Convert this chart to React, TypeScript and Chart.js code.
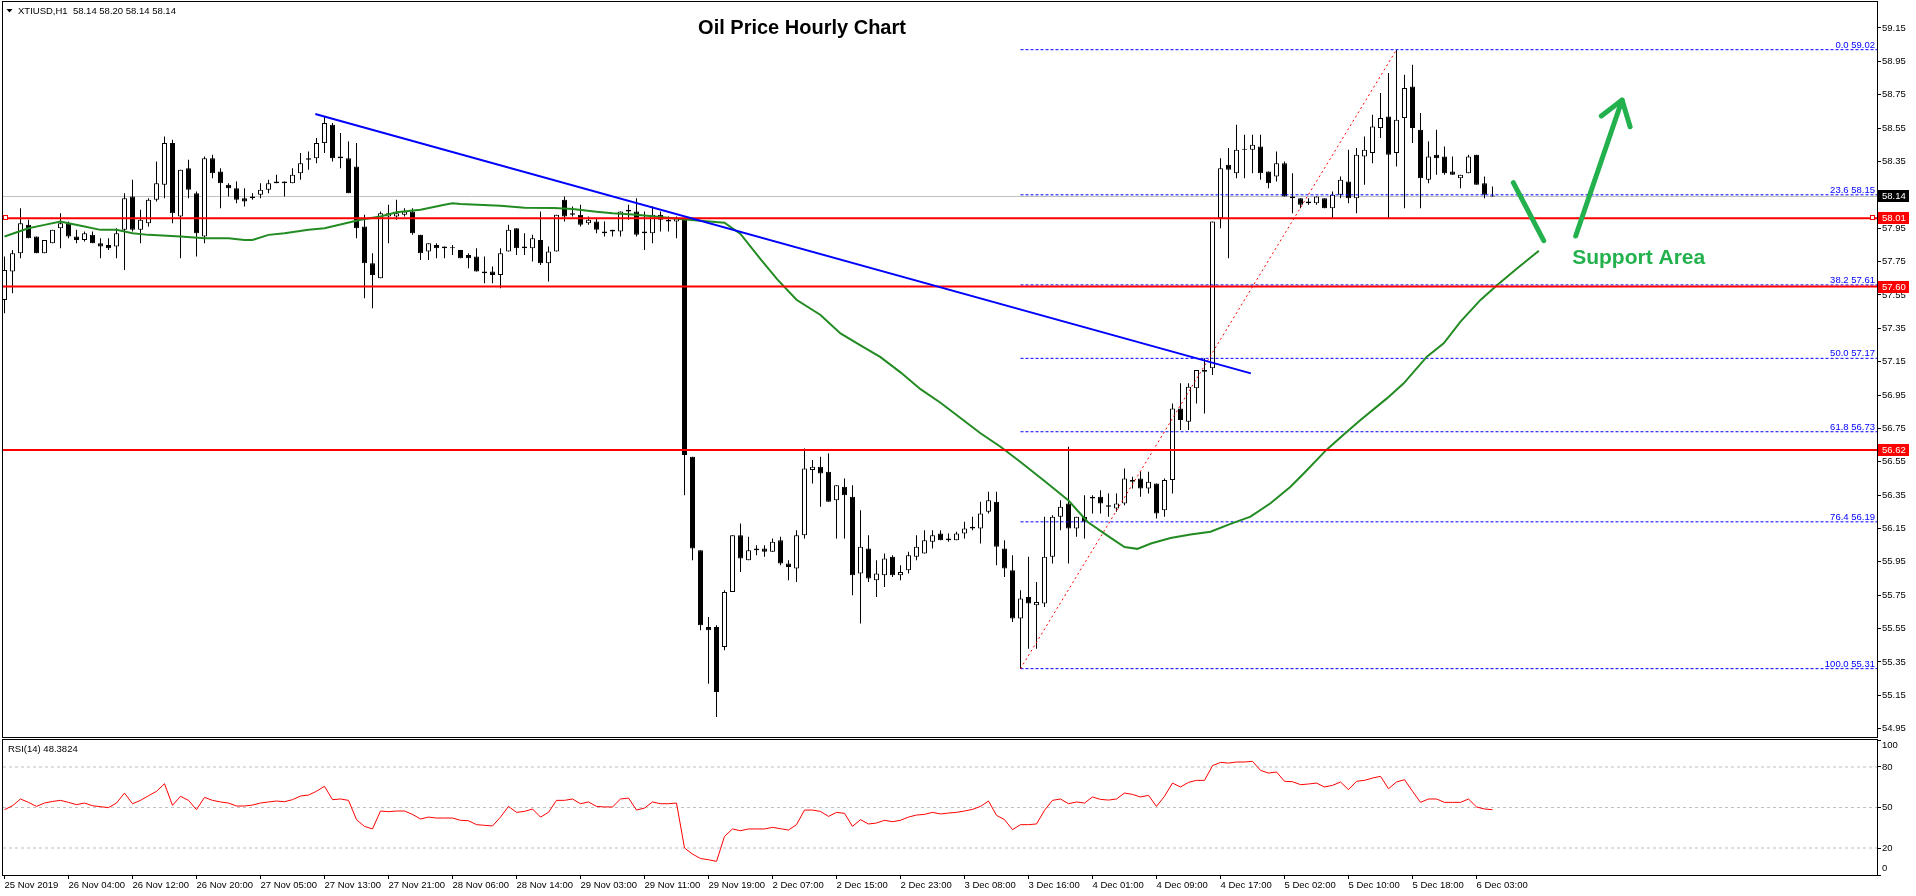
import { useEffect, useRef } from "react";
import { Chart, registerables } from "chart.js";

Chart.register(...registerables);

// ---------------- data ----------------
const TIME_LABELS = [
  "25 Nov 2019", "26 Nov 04:00", "26 Nov 12:00", "26 Nov 20:00", "27 Nov 05:00", "27 Nov 13:00",
  "27 Nov 21:00", "28 Nov 06:00", "28 Nov 14:00", "29 Nov 03:00", "29 Nov 11:00", "29 Nov 19:00",
  "2 Dec 07:00", "2 Dec 15:00", "2 Dec 23:00", "3 Dec 08:00", "3 Dec 16:00", "4 Dec 01:00",
  "4 Dec 09:00", "4 Dec 17:00", "5 Dec 02:00", "5 Dec 10:00", "5 Dec 18:00", "6 Dec 03:00",
];
const TIME_LABEL_BARS = [0, 8, 16, 24, 32, 40, 48, 56, 64, 72, 80, 88, 96, 104, 112, 120, 128, 136, 144, 152, 160, 168, 176, 184];

const OPEN = [
  57.52, 57.69, 57.80, 57.97, 57.90, 57.80, 57.86, 57.95, 57.98, 57.90,
  57.88, 57.91, 57.86, 57.85, 57.84, 57.94, 58.14, 57.94, 57.98, 58.12,
  58.21, 58.46, 58.02, 58.31, 58.16, 57.90, 58.37, 58.29, 58.21, 58.19,
  58.13, 58.13, 58.15, 58.18, 58.22, 58.23, 58.22, 58.28, 58.36, 58.37,
  58.46, 58.57, 58.37, 58.37, 58.32, 57.96, 57.74, 57.65, 58.02, 58.02,
  58.03, 58.05, 57.91, 57.81, 57.85, 57.84, 57.83, 57.82, 57.79, 57.78,
  57.69, 57.69, 57.67, 57.81, 57.95, 57.84, 57.83, 57.88, 57.74, 57.81,
  58.12, 58.03, 58.03, 57.98, 57.99, 57.93, 57.94, 57.93, 58.06, 58.05,
  57.93, 57.92, 58.03, 58.00, 57.99, 58.00, 56.58, 56.02, 55.56, 55.56,
  55.44, 55.77, 56.11, 55.96, 56.02, 56.03, 56.01, 56.08, 55.94, 55.91,
  56.11, 56.50, 56.52, 56.49, 56.32, 56.40, 56.34, 55.88, 56.03, 55.84,
  55.87, 55.98, 55.87, 55.90, 55.98, 56.00, 56.07, 56.12, 56.08, 56.08,
  56.12, 56.16, 56.15, 56.25, 56.31, 56.03, 55.90, 55.61, 55.74, 55.69,
  55.70, 55.98, 56.22, 56.30, 56.15, 56.22, 56.33, 56.34, 56.29, 56.27,
  56.30, 56.43, 56.45, 56.39, 56.42, 56.26, 56.44, 56.87, 56.79, 56.99,
  57.09, 57.11, 58.01, 58.33, 58.28, 58.42, 58.42, 58.44, 58.29, 58.26,
  58.34, 58.14, 58.13, 58.11, 58.10, 58.13, 58.07, 58.15, 58.23, 58.13,
  58.38, 58.40, 58.55, 58.62, 58.40, 58.61, 58.80, 58.54, 58.24, 58.39,
  58.38, 58.29, 58.25, 58.28, 58.39, 58.22, 58.14,
];
const HIGH = [
  57.78, 57.82, 58.07, 58.00, 57.90, 57.88, 57.94, 58.04, 57.99, 57.94,
  57.93, 57.93, 57.89, 57.89, 57.95, 58.16, 58.24, 58.06, 58.13, 58.35,
  58.50, 58.48, 58.30, 58.36, 58.17, 58.38, 58.39, 58.31, 58.22, 58.23,
  58.19, 58.16, 58.22, 58.24, 58.27, 58.23, 58.31, 58.40, 58.41, 58.49,
  58.62, 58.58, 58.52, 58.47, 58.46, 58.03, 57.80, 58.05, 58.09, 58.12,
  58.07, 58.07, 57.91, 57.86, 57.86, 57.84, 57.85, 57.82, 57.80, 57.83,
  57.78, 57.72, 57.83, 57.97, 57.95, 57.92, 57.91, 58.05, 57.84, 58.03,
  58.14, 58.08, 58.09, 58.02, 58.01, 57.99, 57.94, 58.05, 58.09, 58.13,
  58.05, 58.08, 58.05, 58.02, 58.02, 58.01, 56.58, 56.02, 55.62, 55.57,
  55.78, 56.11, 56.18, 56.10, 56.05, 56.05, 56.09, 56.10, 55.96, 56.14,
  56.63, 56.56, 56.58, 56.60, 56.41, 56.45, 56.41, 56.26, 56.11, 55.96,
  56.00, 55.99, 55.93, 56.01, 56.11, 56.14, 56.14, 56.14, 56.12, 56.13,
  56.19, 56.22, 56.31, 56.37, 56.37, 56.08, 55.99, 55.78, 55.98, 55.83,
  56.22, 56.23, 56.32, 56.64, 56.22, 56.35, 56.35, 56.38, 56.36, 56.36,
  56.51, 56.46, 56.49, 56.49, 56.42, 56.45, 56.90, 57.02, 57.02, 57.10,
  57.17, 57.99, 58.37, 58.43, 58.57, 58.51, 58.51, 58.51, 58.29, 58.41,
  58.35, 58.28, 58.13, 58.13, 58.14, 58.13, 58.17, 58.26, 58.42, 58.43,
  58.50, 58.63, 58.76, 58.88, 59.02, 58.87, 58.93, 58.64, 58.47, 58.54,
  58.44, 58.38, 58.27, 58.39, 58.39, 58.26, 58.20,
];
const LOW = [
  57.44, 57.56, 57.77, 57.89, 57.80, 57.80, 57.86, 57.83, 57.89, 57.86,
  57.87, 57.86, 57.77, 57.82, 57.77, 57.70, 57.93, 57.86, 57.96, 58.11,
  58.13, 57.98, 57.77, 58.13, 57.78, 57.86, 58.25, 58.07, 58.14, 58.10,
  58.08, 58.12, 58.13, 58.16, 58.22, 58.14, 58.22, 58.24, 58.30, 58.34,
  58.40, 58.35, 58.31, 58.16, 57.89, 57.53, 57.47, 57.65, 57.86, 58.00,
  58.02, 57.91, 57.76, 57.76, 57.77, 57.77, 57.79, 57.77, 57.71, 57.69,
  57.62, 57.62, 57.59, 57.81, 57.79, 57.79, 57.75, 57.73, 57.63, 57.81,
  57.99, 58.02, 57.96, 57.97, 57.92, 57.90, 57.90, 57.90, 58.00, 57.90,
  57.82, 57.86, 57.93, 57.93, 57.89, 56.35, 55.96, 55.54, 55.22, 55.02,
  55.42, 55.77, 55.89, 55.96, 55.99, 55.98, 56.01, 55.93, 55.84, 55.83,
  56.09, 56.42, 56.28, 56.31, 56.09, 56.09, 55.75, 55.58, 55.83, 55.74,
  55.80, 55.86, 55.84, 55.88, 55.96, 56.00, 56.03, 56.08, 56.07, 56.08,
  56.09, 56.14, 56.06, 56.24, 55.93, 55.86, 55.59, 55.31, 55.43, 55.43,
  55.68, 55.94, 56.14, 55.94, 56.10, 56.09, 56.24, 56.24, 56.22, 56.25,
  56.29, 56.39, 56.34, 56.36, 56.21, 56.22, 56.36, 56.74, 56.74, 56.90,
  56.84, 57.07, 57.95, 57.77, 58.25, 58.25, 58.28, 58.24, 58.19, 58.23,
  58.14, 58.04, 58.07, 58.09, 58.09, 58.07, 58.01, 58.13, 58.10, 58.04,
  58.21, 58.34, 58.49, 58.01, 58.32, 58.07, 58.46, 58.07, 58.22, 58.27,
  58.27, 58.27, 58.19, 58.28, 58.21, 58.13, 58.14,
];
const CLOSE = [
  57.70, 57.80, 57.98, 57.89, 57.80, 57.88, 57.94, 57.98, 57.90, 57.88,
  57.92, 57.86, 57.84, 57.83, 57.92, 58.13, 57.94, 58.00, 58.12, 58.22,
  58.46, 58.04, 58.30, 58.18, 57.92, 58.37, 58.28, 58.22, 58.19, 58.12,
  58.11, 58.14, 58.18, 58.22, 58.23, 58.22, 58.27, 58.34, 58.37, 58.46,
  58.58, 58.37, 58.38, 58.16, 57.95, 57.74, 57.67, 58.04, 58.04, 58.04,
  58.05, 57.92, 57.80, 57.86, 57.83, 57.83, 57.83, 57.77, 57.77, 57.69,
  57.68, 57.67, 57.80, 57.94, 57.83, 57.83, 57.89, 57.74, 57.81, 58.03,
  58.02, 58.04, 57.97, 58.00, 57.94, 57.92, 57.93, 58.05, 58.05, 57.91,
  57.92, 58.03, 58.00, 57.99, 58.01, 56.59, 56.03, 55.57, 55.54, 55.17,
  55.77, 56.11, 55.97, 56.02, 56.03, 56.01, 56.07, 55.94, 55.92, 56.11,
  56.51, 56.52, 56.48, 56.31, 56.41, 56.35, 55.87, 56.04, 55.85, 55.88,
  55.97, 55.87, 55.89, 55.99, 56.04, 56.08, 56.11, 56.08, 56.09, 56.12,
  56.15, 56.15, 56.24, 56.32, 56.04, 55.91, 55.61, 55.73, 55.70, 55.71,
  55.98, 56.22, 56.28, 56.15, 56.22, 56.19, 56.34, 56.30, 56.28, 56.30,
  56.45, 56.44, 56.39, 56.43, 56.24, 56.44, 56.87, 56.80, 57.00, 57.10,
  57.10, 57.99, 58.31, 58.30, 58.42, 58.42, 58.45, 58.28, 58.22, 58.34,
  58.14, 58.13, 58.09, 58.10, 58.14, 58.07, 58.15, 58.24, 58.13, 58.39,
  58.42, 58.56, 58.61, 58.39, 58.60, 58.79, 58.55, 58.25, 58.38, 58.37,
  58.28, 58.27, 58.27, 58.38, 58.21, 58.15, 58.14,
];

const RSI = [
  48.4, 51.3, 56.3, 53.8, 50.8, 53.3, 54.5, 55.3, 53.8, 52.1,
  53.3, 51.3, 50.6, 49.9, 53.3, 60.7, 52.8, 55.3, 58.7, 62.0,
  67.6, 51.6, 58.3, 55.3, 48.4, 57.5, 55.3, 54.1, 53.3, 51.1,
  51.1, 51.8, 53.3, 54.1, 54.8, 54.3, 55.8, 58.5, 59.2, 62.0,
  65.7, 55.8, 56.3, 55.3, 41.0, 36.0, 34.1, 47.4, 46.9, 47.4,
  47.4, 44.9, 41.5, 42.9, 42.2, 42.2, 42.2, 40.5, 40.2, 37.3,
  36.8, 36.3, 42.9, 50.8, 46.4, 47.1, 48.9, 42.9, 46.4, 55.3,
  55.3, 56.3, 52.8, 54.1, 50.8, 50.4, 50.4, 56.3, 57.0, 48.1,
  49.6, 54.1, 52.8, 52.8, 53.3, 20.0, 15.5, 12.2, 11.3, 10.1,
  28.6, 34.1, 32.8, 34.1, 34.1, 34.1, 35.3, 34.3, 33.3, 37.3,
  48.1, 48.1, 47.1, 43.4, 46.4, 45.7, 36.0, 41.0, 37.8, 38.5,
  40.5, 39.5, 40.5, 42.9, 44.4, 44.9, 46.4, 45.2, 45.9, 46.4,
  47.4, 48.6, 50.8, 54.8, 44.2, 41.0, 33.6, 37.3, 37.3, 37.8,
  47.9, 55.3, 56.3, 52.8, 54.1, 53.3, 57.8, 56.0, 55.5, 56.3,
  60.7, 59.7, 57.8, 59.0, 50.8, 58.3, 68.1, 65.2, 68.6, 70.1,
  70.1, 81.0, 83.4, 82.9, 83.7, 83.7, 84.2, 77.5, 75.5, 76.3,
  69.4, 69.1, 66.9, 67.4, 68.1, 65.2, 66.4, 68.9, 63.2, 69.4,
  70.1, 71.8, 73.1, 63.9, 68.9, 70.6, 62.0, 53.8, 56.3, 56.3,
  53.8, 53.8, 53.8, 56.3, 50.4, 48.9, 48.38,
];

const MA_BARS = [
  0, 3, 5, 7, 8, 10, 12, 14, 16, 18, 22, 25, 28, 30, 31, 33, 35, 38, 40, 44.5,
  47, 49, 52, 55, 56, 57, 62, 65, 68.7, 71, 74, 76, 79, 81.6, 84.5, 86.2, 90, 92, 94.5, 96.6,
  99, 102, 104.5, 107, 109.5, 112, 114.5, 117, 119.5, 122, 124.5, 127, 130, 133, 135.4, 138, 140, 141.6, 143.3, 145.75,
  148.25, 150.75, 153.25, 155.75, 158.25, 160.75, 162.4, 165.3, 167.8, 169.5, 172.8, 174.9, 177.8, 179.9, 182, 184.5, 186.6, 189.1, 191.8,
];
const MA_VALUES = [
  57.90, 57.95, 57.97, 57.99, 57.98, 57.96, 57.94, 57.94, 57.92, 57.91, 57.90, 57.89, 57.89, 57.88, 57.88, 57.91, 57.92, 57.94, 57.95, 58.00,
  58.02, 58.045, 58.06, 58.09, 58.10, 58.095, 58.085, 58.073, 58.071, 58.065, 58.049, 58.039, 58.031, 58.019, 58.005, 57.997, 57.983, 57.916, 57.765, 57.643,
  57.521, 57.43, 57.319, 57.248, 57.177, 57.086, 56.985, 56.904, 56.812, 56.721, 56.64, 56.549, 56.435, 56.318, 56.189, 56.103, 56.039, 56.028, 56.06, 56.093,
  56.114, 56.131, 56.178, 56.221, 56.301, 56.40, 56.48, 56.624, 56.73, 56.80, 56.93, 57.02, 57.18, 57.26, 57.39, 57.52, 57.61, 57.71, 57.815,
];

const PRICE_TICKS = [
  54.95, 55.15, 55.35, 55.55, 55.75, 55.95, 56.15, 56.35, 56.55, 56.75, 56.95,
  57.15, 57.35, 57.55, 57.75, 57.95, 58.15, 58.35, 58.55, 58.75, 58.95, 59.15,
];
const RSI_TICKS = [0, 20, 50, 80, 100];
const RSI_LEVELS = [20, 50, 80];
const SUPPORT_LEVELS = [58.01, 57.6, 56.62];
const BID_PRICE = 58.14;
const FIB_RATIOS = ["0.0", "23.6", "38.2", "50.0", "61.8", "76.4", "100.0"];
const FIB_PRICES = [59.02, 58.15, 57.61, 57.17, 56.73, 56.19, 55.31];
const FIB_FROM_BAR = 127;
const FIB_TO_BAR = 174;
const TREND_BARS = [38.85, 155.8];
const TREND_PRICES = [58.634, 57.08];
const DOWN_STROKE_BARS = [188.6, 192.4];
const DOWN_STROKE_PRICES = [58.223, 57.875];
const UP_SHAFT_BARS = [196.4, 202.2];
const UP_SHAFT_PRICES = [57.903, 58.718];
const ARROW_HEAD_BARS = [199.6, 202.2, 203.2];
const ARROW_HEAD_PRICES = [58.622, 58.718, 58.558];
const SUPPORT_LABEL_BAR = 195.96;
const SUPPORT_LABEL_PRICE = 57.735;
const SUPPORT_LABEL = "Support Area";
const TITLE = "Oil Price Hourly Chart";
const SYMBOL_HEADER = "XTIUSD,H1  58.14 58.20 58.14 58.14";
const RSI_HEADER = "RSI(14) 48.3824";

// ---------------- layout / style ----------------
const W = 1916;
const MAIN_H = 738;
const RSI_TOP = 738;
const RSI_H = 158;
const AXIS_W = 39;
const X_MIN = -0.1875;
const X_MAX = 234.0625;
const PRICE_MIN = 54.9003;
const PRICE_MAX = 59.3058;
const FAMILY = "'Liberation Sans', Arial, sans-serif";
const SMALL_FONT = `9.5px ${FAMILY}`;
const GREEN_NOTE = "#22b14c";

const mainOverlay = {
  id: "mainOverlay",
  afterDatasetsDraw(chart: any) {
    const { ctx, chartArea: ca, scales } = chart;
    const x = scales.x;
    const y = scales.y;
    ctx.save();
    ctx.strokeStyle = "#000";
    ctx.lineWidth = 1;
    ctx.strokeRect(ca.left - 0.5, ca.top - 0.5, ca.right - ca.left + 1, ca.bottom - ca.top + 1);

    ctx.font = SMALL_FONT;
    ctx.fillStyle = "#0000ff";
    ctx.textAlign = "right";
    ctx.textBaseline = "alphabetic";
    FIB_PRICES.forEach((p, i) => {
      const py = y.getPixelForValue(p);
      ctx.fillText(`${FIB_RATIOS[i]} ${p.toFixed(2)}`, ca.right - 2, py - 2);
    });

    const ry = Math.round(y.getPixelForValue(SUPPORT_LEVELS[0]));
    ctx.fillStyle = "#fff";
    ctx.strokeStyle = "#ff0000";
    [ca.left + 0.5, ca.right - 6.5].forEach((sx) => {
      ctx.fillRect(sx, ry - 2.5, 4, 4);
      ctx.strokeRect(sx, ry - 2.5, 4, 4);
    });

    ctx.fillStyle = "#000";
    ctx.beginPath();
    ctx.moveTo(6.5, 9);
    ctx.lineTo(12.5, 9);
    ctx.lineTo(9.5, 12.5);
    ctx.closePath();
    ctx.fill();
    ctx.textAlign = "left";
    ctx.font = SMALL_FONT;
    ctx.fillText(SYMBOL_HEADER, 18, 14);

    ctx.font = `bold 20px ${FAMILY}`;
    ctx.textAlign = "center";
    ctx.fillText(TITLE, 802, 34);

    ctx.strokeStyle = GREEN_NOTE;
    ctx.lineWidth = 5;
    ctx.lineCap = "round";
    ctx.lineJoin = "round";
    ctx.beginPath();
    ctx.moveTo(x.getPixelForValue(DOWN_STROKE_BARS[0]), y.getPixelForValue(DOWN_STROKE_PRICES[0]));
    ctx.lineTo(x.getPixelForValue(DOWN_STROKE_BARS[1]), y.getPixelForValue(DOWN_STROKE_PRICES[1]));
    ctx.stroke();
    ctx.beginPath();
    ctx.moveTo(x.getPixelForValue(UP_SHAFT_BARS[0]), y.getPixelForValue(UP_SHAFT_PRICES[0]));
    ctx.lineTo(x.getPixelForValue(UP_SHAFT_BARS[1]), y.getPixelForValue(UP_SHAFT_PRICES[1]));
    ctx.stroke();
    ctx.beginPath();
    ARROW_HEAD_BARS.forEach((b, i) => {
      const px = x.getPixelForValue(b);
      const py = y.getPixelForValue(ARROW_HEAD_PRICES[i]);
      if (i === 0) ctx.moveTo(px, py);
      else ctx.lineTo(px, py);
    });
    ctx.stroke();

    ctx.fillStyle = GREEN_NOTE;
    ctx.font = `bold 21px ${FAMILY}`;
    ctx.textAlign = "left";
    ctx.fillText(SUPPORT_LABEL, x.getPixelForValue(SUPPORT_LABEL_BAR), y.getPixelForValue(SUPPORT_LABEL_PRICE));
    ctx.restore();
  },
  afterDraw(chart: any) {
    const { ctx, chartArea: ca, scales } = chart;
    const y = scales.y;
    ctx.save();
    ctx.font = SMALL_FONT;
    ctx.textAlign = "left";
    ctx.textBaseline = "middle";
    const boxes: [number, string][] = [[BID_PRICE, "#000000"], ...SUPPORT_LEVELS.map((v) => [v, "#ff0000"] as [number, string])];
    boxes.forEach(([v, col]) => {
      const py = Math.round(y.getPixelForValue(v));
      ctx.fillStyle = col;
      ctx.fillRect(ca.right + 1, py - 6, 31, 12);
      ctx.fillStyle = "#fff";
      ctx.fillText(v.toFixed(2), ca.right + 5, py + 0.5);
    });
    ctx.restore();
  },
};

const rsiOverlay = {
  id: "rsiOverlay",
  afterDatasetsDraw(chart: any) {
    const { ctx, chartArea: ca, scales } = chart;
    const y = scales.y;
    ctx.save();
    ctx.strokeStyle = "#000";
    ctx.lineWidth = 1;
    ctx.strokeRect(ca.left - 0.5, ca.top - 0.5, ca.right - ca.left + 1, ca.bottom - ca.top + 1);
    ctx.font = SMALL_FONT;
    ctx.fillStyle = "#000";
    ctx.textAlign = "left";
    ctx.textBaseline = "alphabetic";
    ctx.fillText(RSI_HEADER, 8, ca.top + 12);
    ctx.textBaseline = "middle";
    RSI_TICKS.forEach((v) => {
      const py = Math.min(Math.max(y.getPixelForValue(v), ca.top + 5), ca.bottom - 7);
      ctx.fillText(String(v), ca.right + 5, py);
    });
    ctx.restore();
  },
};

function hLine(value: number, from: number, to: number, color: string, width: number, order: number, dash: number[] = []) {
  return {
    type: "line" as const,
    data: [{ x: from, y: value }, { x: to, y: value }],
    borderColor: color,
    borderWidth: width,
    borderDash: dash,
    pointRadius: 0,
    fill: false,
    order,
  };
}

export default function App() {
  const mainRef = useRef<HTMLCanvasElement>(null);
  const rsiRef = useRef<HTMLCanvasElement>(null);

  useEffect(() => {
    const idx = OPEN.map((_, i) => i);
    const axisFont = { family: FAMILY, size: 9.5 };

    const datasets: any[] = [
      hLine(BID_PRICE, X_MIN, X_MAX, "#c0c0c0", 1, 10),
      {
        type: "bar",
        data: idx.map((i) => ({ x: i, y: [LOW[i], HIGH[i]] })),
        backgroundColor: "#000",
        borderWidth: 0,
        barThickness: 1,
        grouped: false,
        minBarLength: 1,
        inflateAmount: 0,
        order: 9,
      },
      {
        type: "bar",
        data: idx.map((i) => ({ x: i, y: [Math.min(OPEN[i], CLOSE[i]), Math.max(OPEN[i], CLOSE[i])] })),
        backgroundColor: idx.map((i) => (CLOSE[i] >= OPEN[i] ? "#ffffff" : "#000000")),
        borderColor: "#000",
        borderWidth: 1,
        borderSkipped: false,
        barThickness: 5,
        grouped: false,
        minBarLength: 1,
        inflateAmount: 0,
        order: 8,
      },
      ...FIB_PRICES.map((p) => hLine(p, FIB_FROM_BAR, X_MAX, "#0000ff", 1, 7, [3, 2])),
      {
        type: "line",
        data: [
          { x: FIB_FROM_BAR, y: FIB_PRICES[FIB_PRICES.length - 1] },
          { x: FIB_TO_BAR, y: FIB_PRICES[0] },
        ],
        borderColor: "#ff0000",
        borderWidth: 1,
        borderDash: [2, 3],
        pointRadius: 0,
        order: 6,
      },
      {
        type: "line",
        data: MA_BARS.map((b, i) => ({ x: b, y: MA_VALUES[i] })),
        borderColor: "#228b22",
        borderWidth: 2,
        pointRadius: 0,
        order: 5,
      },
      ...SUPPORT_LEVELS.map((v) => hLine(v, X_MIN, X_MAX, "#ff0000", 2, 4)),
      {
        type: "line",
        data: TREND_BARS.map((b, i) => ({ x: b, y: TREND_PRICES[i] })),
        borderColor: "#0000ff",
        borderWidth: 2,
        pointRadius: 0,
        order: 3,
      },
    ];

    const main = new Chart(mainRef.current as HTMLCanvasElement, {
      type: "line",
      data: { datasets },
      options: {
        responsive: false,
        animation: false,
        devicePixelRatio: 1,
        events: [],
        layout: { padding: { left: 3, top: 2, right: 0, bottom: 1 } },
        plugins: { legend: { display: false }, tooltip: { enabled: false } },
        scales: {
          x: { type: "linear", display: false, min: X_MIN, max: X_MAX, offset: false },
          y: {
            type: "linear",
            position: "right",
            min: PRICE_MIN,
            max: PRICE_MAX,
            afterBuildTicks: (s: any) => {
              s.ticks = PRICE_TICKS.map((v) => ({ value: v }));
            },
            afterFit: (s: any) => {
              s.width = AXIS_W;
              s.paddingTop = 0;
              s.paddingBottom = 0;
            },
            ticks: {
              callback: (v: any) => Number(v).toFixed(2),
              font: axisFont,
              color: "#000",
              padding: 1,
              autoSkip: false,
            },
            grid: { drawOnChartArea: false, drawTicks: true, tickLength: 4, color: "#000" },
            border: { display: false },
          },
        },
      } as any,
      plugins: [mainOverlay],
    });

    const rsiDatasets: any[] = [
      {
        type: "line",
        data: idx.map((i) => ({ x: i, y: RSI[i] })),
        borderColor: "#ff0000",
        borderWidth: 1,
        pointRadius: 0,
        order: 0,
      },
      ...RSI_LEVELS.map((v) => hLine(v, X_MIN, X_MAX, "#c0c0c0", 1, 1, [3, 3])),
    ];

    const rsi = new Chart(rsiRef.current as HTMLCanvasElement, {
      type: "line",
      data: { datasets: rsiDatasets },
      options: {
        responsive: false,
        animation: false,
        devicePixelRatio: 1,
        events: [],
        layout: { padding: { left: 3, top: 2, right: 0, bottom: 0 } },
        plugins: { legend: { display: false }, tooltip: { enabled: false } },
        scales: {
          x: {
            type: "linear",
            min: X_MIN,
            max: X_MAX,
            offset: false,
            position: "bottom",
            afterBuildTicks: (s: any) => {
              s.ticks = TIME_LABEL_BARS.map((v) => ({ value: v }));
            },
            afterFit: (s: any) => {
              s.height = 21;
              s.paddingLeft = 0;
              s.paddingRight = 0;
            },
            ticks: {
              callback: (_v: any, i: number) => TIME_LABELS[i],
              align: "start",
              maxRotation: 0,
              minRotation: 0,
              autoSkip: false,
              padding: 1,
              font: axisFont,
              color: "#000",
            },
            grid: { drawOnChartArea: false, drawTicks: true, tickLength: 4, color: "#000" },
            border: { display: false },
          },
          y: {
            type: "linear",
            position: "right",
            min: 0,
            max: 100,
            afterBuildTicks: (s: any) => {
              s.ticks = RSI_TICKS.map((v) => ({ value: v }));
            },
            afterFit: (s: any) => {
              s.width = AXIS_W;
              s.paddingTop = 0;
              s.paddingBottom = 0;
            },
            ticks: { display: false },
            grid: { drawOnChartArea: false, drawTicks: true, tickLength: 4, color: "#000" },
            border: { display: false },
          },
        },
      } as any,
      plugins: [rsiOverlay],
    });

    return () => {
      main.destroy();
      rsi.destroy();
    };
  }, []);

  return (
    <div style={{ position: "absolute", left: 0, top: 0, width: W, height: 896, background: "#fff", overflow: "hidden" }}>
      <canvas
        ref={mainRef}
        width={W}
        height={MAIN_H}
        style={{ position: "absolute", left: 0, top: 0, width: W, height: MAIN_H }}
      />
      <canvas
        ref={rsiRef}
        width={W}
        height={RSI_H}
        style={{ position: "absolute", left: 0, top: RSI_TOP, width: W, height: RSI_H }}
      />
    </div>
  );
}
